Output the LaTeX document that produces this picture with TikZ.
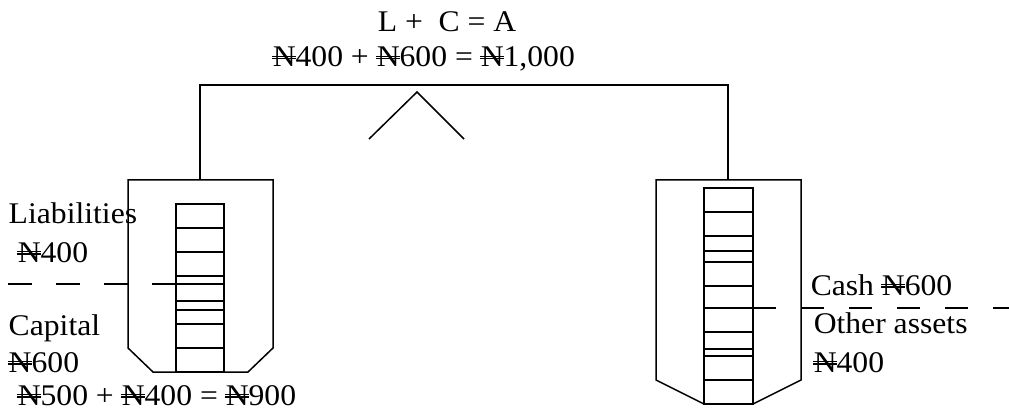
\documentclass[tikz,border=0pt]{standalone}
\usepackage{fontspec}
\setmainfont{Liberation Serif}[FakeStretch=1.055]
\newcommand\naira{\ooalign{N\cr\hidewidth\raisebox{0.25em}{\rule{0.8em}{0.04em}}\hidewidth\cr\hidewidth\raisebox{0.34em}{\rule{0.8em}{0.04em}}\hidewidth\cr}}
\begin{document}
\begin{tikzpicture}[x=1pt,y=-1pt,line width=1.5pt,
  txt/.style={inner sep=0pt,anchor=base west,font=\fontsize{30}{35}\selectfont},
  thickline/.style={line width=2.8pt},
  dashline/.style={dash pattern=on 24pt off 24pt}]
\useasboundingbox (0,0) rectangle (1009,414);
% beam
\coordinate (bl) at (200,85);
\coordinate (br) at (728,85);
\coordinate (pl) at (200,180);
\coordinate (pr) at (728,180);
\draw (pl) -- (bl) -- (br) -- (pr);
% fulcrum
\coordinate (apex) at (417,92);
\coordinate (fl) at (369,139);
\coordinate (fr) at (464,139);
\draw (fl) -- (apex) -- (fr);
% left pan
\draw (128,180) -- (273,180) -- (273,348) -- (248,372) -- (153,372) -- (128,348) -- cycle;
\draw (176,204) rectangle (224,372);
\foreach \y in {228,252,276,301,310,324,348} \draw (176,\y) -- (224,\y);
\draw[thickline] (176,284) -- (224,284);
\coordinate (ld) at (8,284);
\coordinate (lc) at (176,284);
\draw[dashline] (ld) -- (lc);
% right pan
\draw (656,180) -- (801,180) -- (801,380) -- (753,404) -- (704,404) -- (656,380) -- cycle;
\draw (704,188) rectangle (753,404);
\foreach \y in {212,236,251,262,286,332,349,356,380} \draw (704,\y) -- (753,\y);
\draw[thickline] (704,308) -- (753,308);
\coordinate (rc) at (753,308);
\coordinate (rd) at (1009,308);
\draw[dash pattern=on 23pt off 25pt] (rc) -- (rd);
% texts
\node[txt] (eq1) at (377,32) {L +\ \ C = A};
\node[txt] (eq2) at (272,67) {\naira400 + \naira600 = \naira1,000};
\node[txt] (lia) at (8,224) {Liabilities};
\node[txt] (lia2) at (17,262) {\naira400};
\node[txt] (cap) at (8,335) {Capital};
\node[txt] (cap2) at (8,372) {\naira600};
\node[txt] (cap3) at (17,405) {\naira500 + \naira400 = \naira900};
\node[txt] (cash) at (810,295) {Cash \naira600};
\node[txt] (oth) at (813,333) {Other assets};
\node[txt] (oth2) at (813,372) {\naira400};
\end{tikzpicture}
\end{document}
